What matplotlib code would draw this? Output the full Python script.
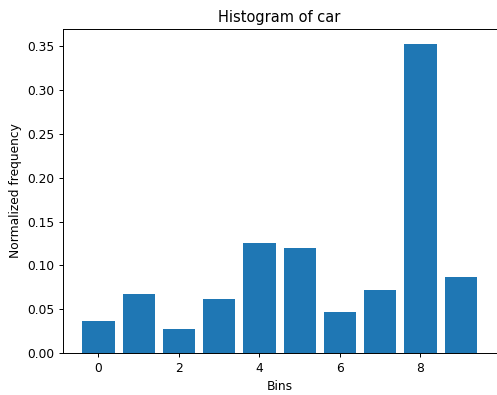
import matplotlib
matplotlib.use('Agg')
import matplotlib.pyplot as plt

bins = list(range(10))
freq = [0.0362, 0.0679, 0.0278, 0.0618, 0.1251, 0.1202, 0.0467, 0.0724, 0.352, 0.0863]

dpi = 88
fig, ax = plt.subplots(figsize=(497 / dpi, 395 / dpi), dpi=dpi)
fig.subplots_adjust(left=0.126, right=0.999, top=0.927, bottom=0.106)
ax.bar(bins, freq, color='#1f77b4')
ax.set_title('Histogram of car')
ax.set_xlabel('Bins')
ax.set_ylabel('Normalized frequency')
fig.savefig('out.png', dpi=dpi)
